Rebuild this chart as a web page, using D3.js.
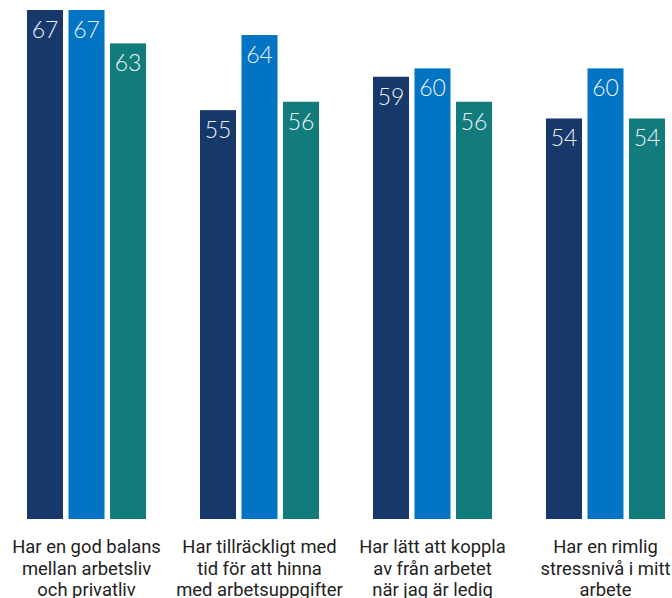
<!DOCTYPE html>
<html>
<head>
<meta charset="utf-8">
<script src="https://cdn.jsdelivr.net/npm/d3@7"></script>
<style>
  body { margin: 0; background: #fff; overflow: hidden; }
  .val { font-family: Lato, sans-serif; font-weight: 300; font-size: 23px; fill: #eef3f8; }
  .cat { font-family: Roboto, sans-serif; font-size: 18.4px; fill: #222; }
</style>
</head>
<body>
<div class="container"></div>
<script>
const categories = [
  ["Har en god balans", "mellan arbetsliv", "och privatliv"],
  ["Har tillräckligt med", "tid för att hinna", "med arbetsuppgifter"],
  ["Har lätt att koppla", "av från arbetet", "när jag är ledig"],
  ["Har en rimlig", "stressnivå i mitt", "arbete"]
];
const series = ["s1", "s2", "s3"];
const values1 = [67, 55, 59, 54];
const values2 = [67, 64, 60, 60];
const values3 = [63, 56, 56, 54];
const colors = ["#17386a", "#0174c4", "#127b7c"];

const w = 672;
const h = 598;

const dataset = categories.map((c, i) => ({
  cat: i,
  lines: c,
  vals: [values1[i], values2[i], values3[i]]
}));

const svg = d3.select(".container")
              .append("svg")
              .attr("width", w)
              .attr("height", h)
              .style("display", "block");

const xScale = d3.scaleBand()
                 .domain(d3.range(categories.length))
                 .range([27, 665])
                 .paddingInner(0.312)
                 .paddingOuter(0);

const xInner = d3.scaleBand()
                 .domain(d3.range(series.length))
                 .range([0, xScale.bandwidth()])
                 .paddingInner(0.1325);

const yScale = d3.scaleLinear()
                 .domain([6, 67])
                 .range([519, 10]);

const groups = svg.selectAll("g.grp")
                  .data(dataset)
                  .enter()
                  .append("g")
                  .attr("class", "grp")
                  .attr("transform", (d) => "translate(" + xScale(d.cat) + ",0)");

groups.selectAll("rect")
      .data((d) => d.vals)
      .enter()
      .append("rect")
      .attr("x", (d, i) => xInner(i))
      .attr("y", (d) => yScale(d))
      .attr("width", xInner.bandwidth())
      .attr("height", (d) => yScale.range()[0] - yScale(d))
      .attr("fill", (d, i) => colors[i]);

groups.selectAll("text.val")
      .data((d) => d.vals)
      .enter()
      .append("text")
      .attr("class", "val")
      .attr("x", (d, i) => xInner(i) + xInner.bandwidth() / 2)
      .attr("y", (d) => yScale(d) + 28)
      .attr("text-anchor", "middle")
      .text((d) => d);

const labels = groups.append("text")
                     .attr("class", "cat")
                     .attr("text-anchor", "middle")
                     .attr("x", xScale.bandwidth() / 2)
                     .attr("y", 553);

labels.selectAll("tspan")
      .data((d) => d.lines)
      .enter()
      .append("tspan")
      .attr("x", xScale.bandwidth() / 2)
      .attr("dy", (d, i) => i === 0 ? 0 : 21.5)
      .text((d) => d);
</script>
</body>
</html>
